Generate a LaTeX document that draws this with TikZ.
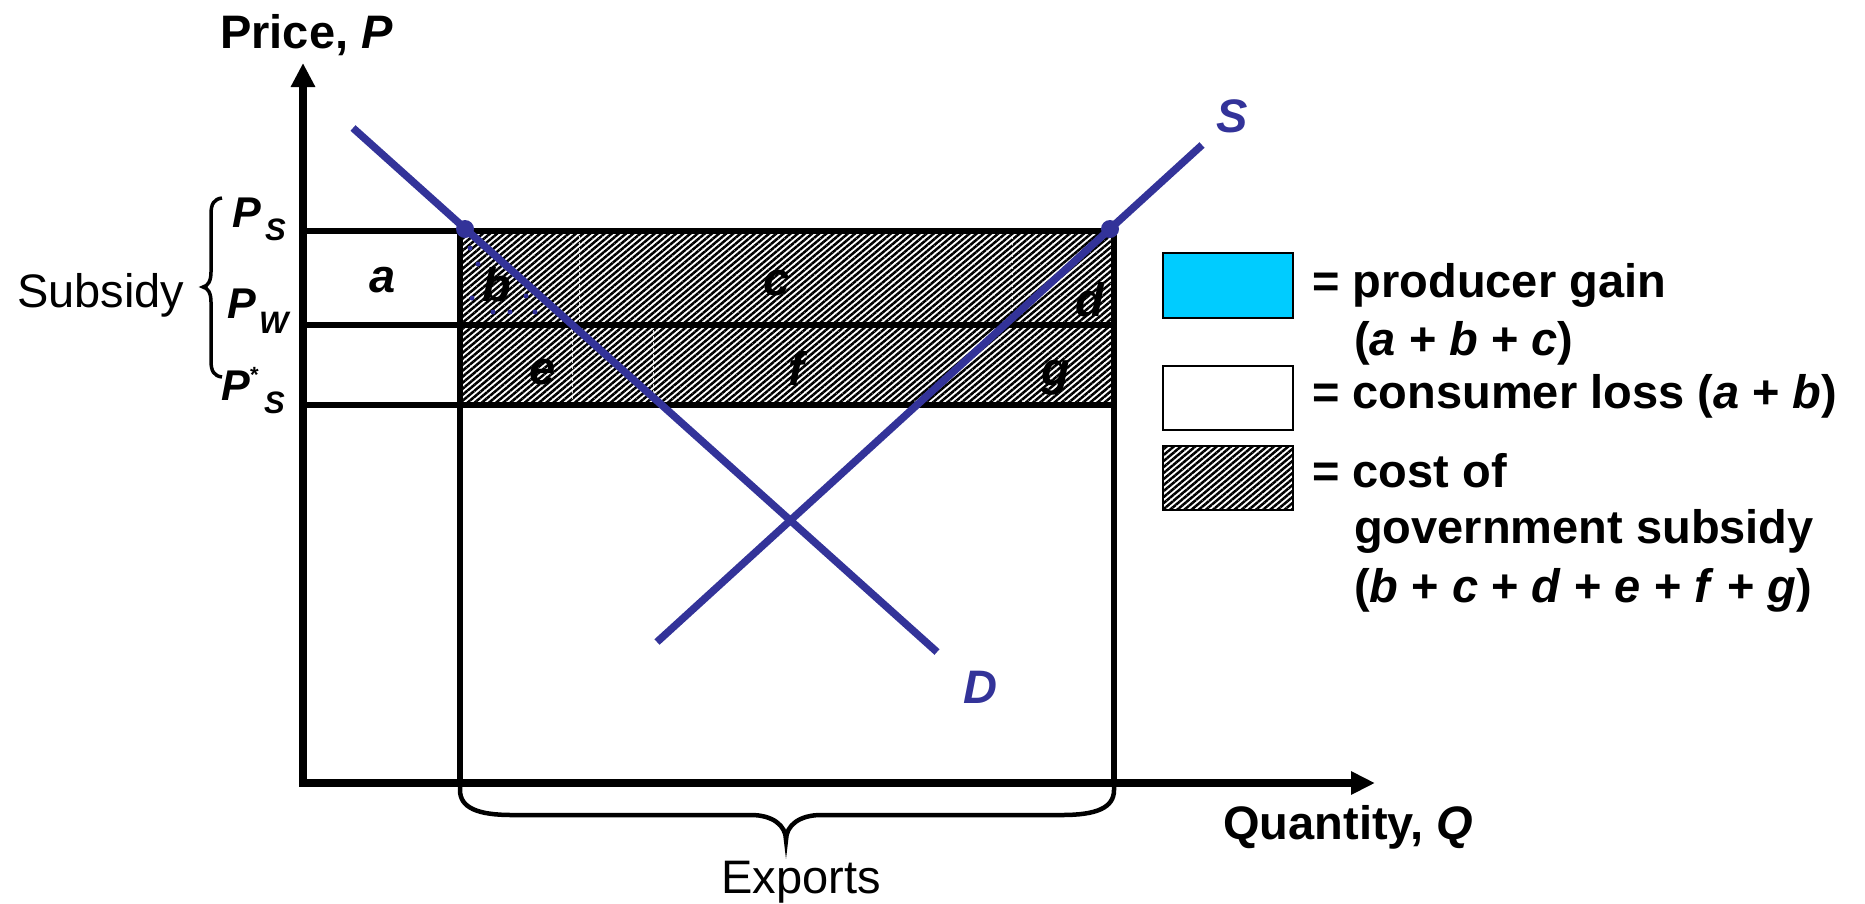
\documentclass[tikz,border=0pt]{standalone}
\usepackage{fontspec}
\setmainfont{Liberation Sans}
\usetikzlibrary{arrows.meta,patterns.meta}
\definecolor{curveblue}{RGB}{51,51,153}
\definecolor{gaincyan}{RGB}{0,204,255}
\tikzset{
  big/.style={font=\fontsize{47}{56}\selectfont, inner sep=0pt},
  bigb/.style={font=\fontsize{47}{56}\selectfont\bfseries, inner sep=0pt, anchor=base west},
  bigbi/.style={font=\fontsize{47}{56}\selectfont\bfseries\itshape, inner sep=0pt},
  plab/.style={font=\fontsize{43}{50}\selectfont\bfseries\itshape, inner sep=0pt, anchor=base west},
  psub/.style={font=\fontsize{31}{36}\selectfont\bfseries\itshape, inner sep=0pt, anchor=base west},
  hatchfill/.style={pattern={Lines[angle=40,distance=4.6pt,line width=2.5pt]}},
  gridline/.style={line width=5.5pt},
  curveline/.style={curveblue, line width=7.5pt},
  axisline/.style={line width=7.5pt, line join=miter},
  legbox/.style={draw=black, line width=2.5pt},
}
\begin{document}
\begin{tikzpicture}[x=1pt,y=-1pt]
\useasboundingbox (0,0) rectangle (1865,903);

% key coordinates
\coordinate (O) at (303,783);
\coordinate (Ytip) at (303,63);
\coordinate (Xtip) at (1375,783);
\coordinate (PsL) at (303,231);
\coordinate (PsR) at (1114,231);
\coordinate (PwL) at (303,325);
\coordinate (PwR) at (1114,325);
\coordinate (PssL) at (303,405);
\coordinate (PssR) at (1114,405);
\coordinate (BL) at (460,231);
\coordinate (BR) at (1114,231);
\coordinate (BLb) at (460,783);
\coordinate (BRb) at (1114,783);

% hatched subsidy cost region
\fill[white] (460,231) rectangle (1114,405);
\fill[hatchfill] (460,231) rectangle (1114,405);
% faint artefact seams in the hatch
\draw[white, line width=1pt, dashed, opacity=0.8] (579,236) -- (579,322);
\draw[white, line width=1pt, dashed, opacity=0.8] (1012,236) -- (1012,322);
\draw[white, line width=1pt, dashed, opacity=0.8] (572,330) -- (572,402);
\draw[white, line width=1pt, dashed, opacity=0.8] (653,330) -- (653,402);

% price lines
\draw[gridline] (PsL) -- (PsR);
\draw[gridline] (PwL) -- (PwR);
\draw[gridline] (PssL) -- (PssR);
% box verticals
\draw[gridline] (BL) -- (BLb);
\draw[gridline] (BR) -- (BRb);

% exports brace
\draw[line width=4.5pt] (460,783) -- (460,790) .. controls (460,808) and (478,815) .. (512,815)
  -- (751,815) .. controls (772,815) and (786,825) .. (786,840)
  .. controls (786,825) and (800,815) .. (821,815) -- (1062,815)
  .. controls (1096,815) and (1114,808) .. (1114,790) -- (1114,783);

% subsidy brace
\draw[line width=3.5pt] (222,198) .. controls (214,199) and (211,204) .. (211,214) -- (211,272)
  .. controls (211,281) and (208,286) .. (203,287)
  .. controls (208,288) and (211,293) .. (211,302) -- (211,361)
  .. controls (211,371) and (214,376) .. (222,377);

% axes
\draw[axisline, {Triangle[length=24pt,width=23pt]}-{Triangle[length=24pt,width=22pt]}]
  (Ytip) -- (O) -- (Xtip);

% demand and supply curves
\coordinate (D1) at (353,128);
\coordinate (D2) at (937,652);
\coordinate (S1) at (657,642);
\coordinate (S2) at (1202,145);
\draw[curveline] (D1) -- (D2);
\draw[curveline] (S1) -- (S2);
\fill[curveblue] (465,229) circle (9pt);
\fill[curveblue] (1110,229) circle (9pt);
% dotted artefact around b
\foreach \p in {(470,248),(478,264),(472,298),(493,312),(510,312),(535,312),(526,296)}
  \fill[curveblue] \p circle (2.5pt);

% area labels
\node[bigbi] (la) at (383,280) {a};
\node[bigbi] (lb) at (497,285) {b};
\node[bigbi] (lc) at (777,283) {c};
\node[bigbi] (ld) at (1090,300) {d};
\node[bigbi] (le) at (543,372) {e};
\node[bigbi] (lf) at (796,368) {f};
\node[bigbi] (lg) at (1056,378) {g};

% curve labels
\node[bigbi, text=curveblue] (lS) at (1232,116) {S};
\node[bigbi, text=curveblue] (lD) at (980,687) {D};

% axis titles
\node[bigb] (ptitle) at (220,48) {Price, \textit{P}};
\node[bigb] (qtitle) at (1223,839) {Quantity, \textit{Q}};
\node[big, anchor=base] (exports) at (801,893) {Exports};
\node[big, anchor=base west] (subsidy) at (17,307) {Subsidy};

% price labels
\node[plab] (psP) at (232,227) {P};
\node[psub] (psS) at (265,240) {S};
\node[plab] (pwP) at (227,318) {P};
\node[psub] (pwW) at (259,333) {W};
\node[plab] (pssP) at (221,400) {P};
\node[psub, font=\fontsize{22}{26}\selectfont\bfseries] (pssStar) at (250,382) {*};
\node[psub] (pssS) at (264,413) {S};

% legend
\draw[legbox, fill=gaincyan] (1163,253) rectangle (1293,318);
\draw[legbox, fill=white] (1163,366) rectangle (1293,430);
\fill[white] (1163,446) rectangle (1293,510);
\fill[hatchfill] (1163,446) rectangle (1293,510);
\draw[legbox] (1163,446) rectangle (1293,510);
\node[bigb] (l1a) at (1312,297) {= producer gain};
\node[bigb] (l1b) at (1354,355) {(\textit{a} + \textit{b} + \textit{c})};
\node[bigb] (l2) at (1312,408) {= consumer loss (\textit{a} + \textit{b})};
\node[bigb] (l3a) at (1312,487) {= cost of};
\node[bigb] (l3b) at (1354,543) {government subsidy};
\node[bigb] (l3c) at (1354,602) {(\textit{b} + \textit{c} + \textit{d} + \textit{e} + \textit{f} + \textit{g})};
\end{tikzpicture}
\end{document}
